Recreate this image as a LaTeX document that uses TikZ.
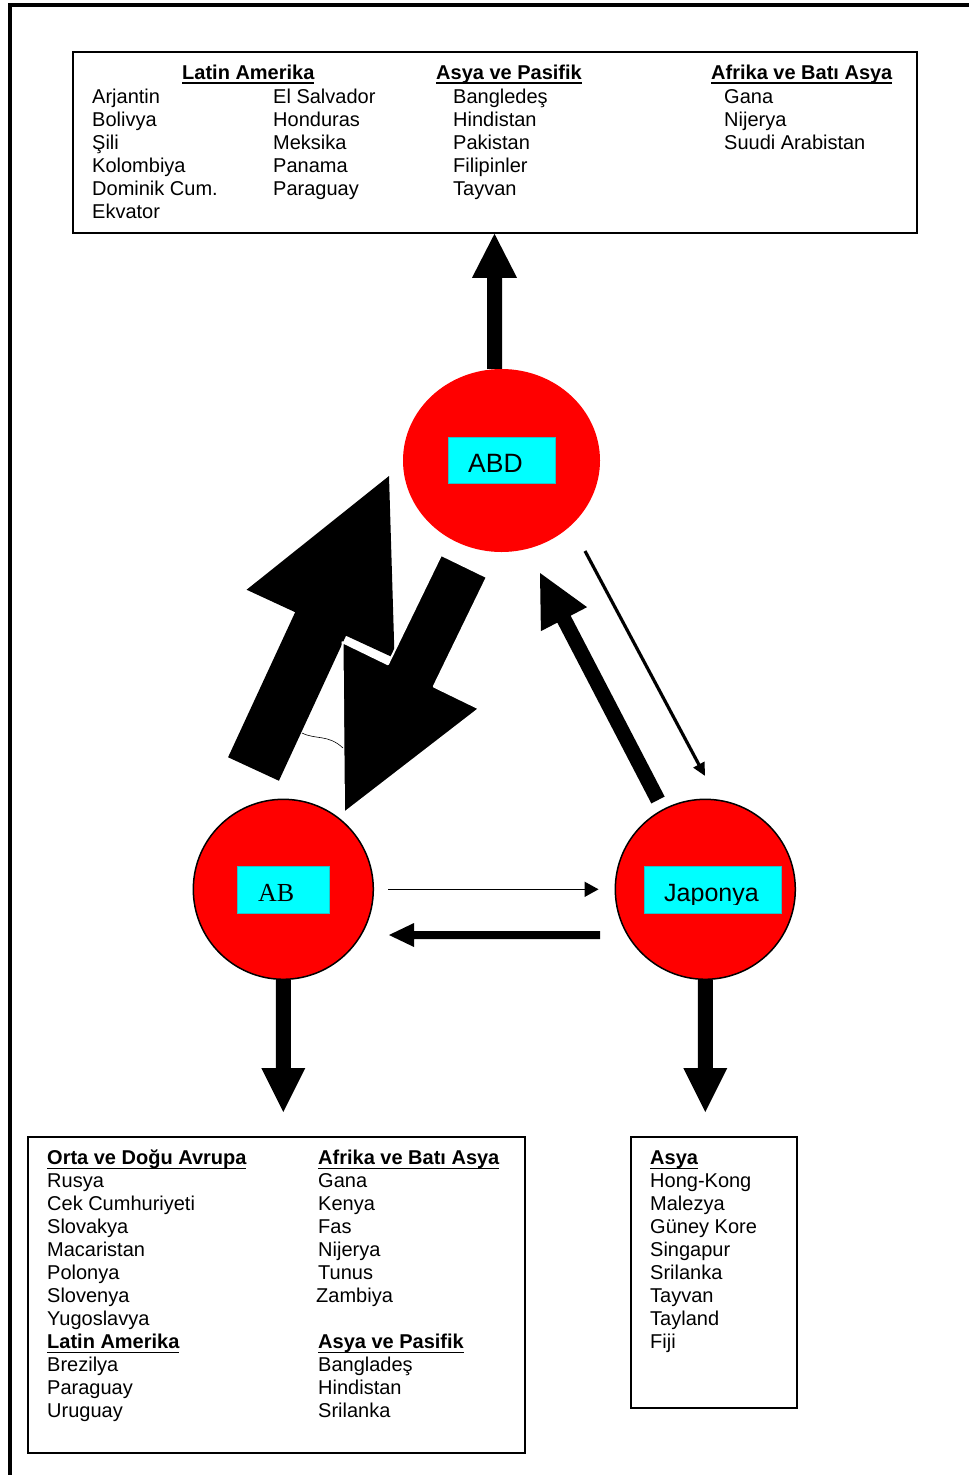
\documentclass[tikz,border=0pt]{standalone}
\usepackage{fontspec}
\setmainfont{Liberation Sans}
\newfontfamily\timesfont{Liberation Serif}
\usetikzlibrary{shapes.geometric,calc,arrows.meta}

\definecolor{hubred}{RGB}{255,0,0}
\definecolor{tagfill}{RGB}{0,255,255}
\definecolor{tagline}{RGB}{40,190,200}

% bold heading with a fixed underline
\newcommand\hdr[1]{{\bfseries\setbox0\hbox{#1}\rlap{\rule[-4.8pt]{\wd0}{1.8pt}}\box0}}
% one column of names, first baseline on the node's base
\newcommand\colist[1]{\begin{tabular}[t]{@{}l@{}}#1\end{tabular}}
% filled block arrow: style, tail, tip, half shaft, half head, head length
\newcommand\blockarrow[6]{%
  \coordinate (ba-base) at ($(#3)!#6!(#2)$);
  \filldraw[#1] ($(#2)!#4!90:(#3)$) -- ($(ba-base)!#4!90:(#3)$) -- ($(ba-base)!#5!90:(#3)$)
    -- (#3) -- ($(ba-base)!#5!-90:(#3)$) -- ($(ba-base)!#4!-90:(#3)$) -- ($(#2)!#4!-90:(#3)$) -- cycle;}

\begin{document}
\begin{tikzpicture}[x=1pt,y=-1pt,
  lst/.style={anchor=base west, inner sep=0pt, font=\fontsize{20}{23}\selectfont},
  listbox/.style={draw=black, line width=1.8pt, anchor=north west, inner sep=0pt},
  tag/.style={fill=tagfill, draw=tagline, line width=0.8pt, inner sep=0pt},
  hub/.style={circle, fill=hubred, draw=black, line width=1.5pt, minimum size=180pt, inner sep=0pt},
  tagtext/.style={anchor=base west, inner sep=0pt},
  solid/.style={fill=black, draw=none},
  thinarrow/.style={line width=1.6pt, -{Triangle[length=14pt,width=15pt]}},
]
\useasboundingbox (0,0) rectangle (969,1475);
\fill[white] (0,0) rectangle (969,1475);

% page frame
\draw[line width=4pt, line join=miter] (980,5) -- (10,5) -- (10,1490);

% list boxes
\node[listbox, minimum width=844pt, minimum height=181pt] (usbox) at (72,51) {};
\node[listbox, minimum width=497pt, minimum height=316pt, line width=1.5pt] (eubox) at (27,1136) {};
\node[listbox, minimum width=166pt, minimum height=271pt] (jpbox) at (630,1136) {};

% upper list
\node[lst] (us-h1) at (182,79) {\hdr{Latin Amerika}};
\node[lst] (us-h2) at (436,79) {\hdr{Asya ve Pasifik}};
\node[lst] (us-h3) at (711,79) {\hdr{Afrika ve Batı Asya}};
\node[lst] (us-c1) at (92,103.5) {\colist{Arjantin\\Bolivya\\Şili\\Kolombiya\\Dominik Cum.\\Ekvator}};
\node[lst] (us-c2) at (273,103.5) {\colist{El Salvador\\Honduras\\Meksika\\Panama\\Paraguay}};
\node[lst] (us-c3) at (453,103.5) {\colist{Bangledeş\\Hindistan\\Pakistan\\Filipinler\\Tayvan}};
\node[lst] (us-c4) at (724,103.5) {\colist{Gana\\Nijerya\\Suudi Arabistan}};

% lower left list
\node[lst] (eu-c1) at (47,1164.5) {\colist{\hdr{Orta ve Doğu Avrupa}\\Rusya\\Cek Cumhuriyeti\\Slovakya\\Macaristan\\Polonya\\Slovenya\\Yugoslavya\\\hdr{Latin Amerika}\\Brezilya\\Paraguay\\Uruguay}};
\node[lst] (eu-c2) at (318,1164.5) {\colist{\hdr{Afrika ve Batı Asya}\\Gana\\Kenya\\Fas\\Nijerya\\Tunus\\\hspace*{-2pt}Zambiya\\ \\\hdr{Asya ve Pasifik}\\Bangladeş\\Hindistan\\Srilanka}};

% lower right list
\node[lst] (jp-c1) at (650,1164.5) {\colist{\hdr{Asya}\\Hong-Kong\\Malezya\\Güney Kore\\Singapur\\Srilanka\\Tayvan\\Tayland\\Fiji}};

% the three centres
\node[ellipse, fill=hubred, minimum width=197pt, minimum height=183pt, inner sep=0pt] (abd) at (501.5,460.5) {};
\node[hub] (ab) at (283.3,889.3) {};
\node[hub] (jp) at (705.3,889.3) {};

\node[tag, minimum width=107pt, minimum height=46pt] (abd-tag) at (501.5,460) {};
\node[tagtext, font=\fontsize{26.5}{30}\selectfont] (abd-name) at (468,472) {ABD};
\node[tag, minimum width=92pt, minimum height=47pt] (ab-tag) at (283,889.5) {};
\node[tagtext, font=\timesfont\fontsize{26}{30}\selectfont] (ab-name) at (258,901.7) {AB};
\node[tag, minimum width=137pt, minimum height=47pt] (jp-tag) at (712.5,889.5) {};
\begin{scope}
  \clip (644,866) rectangle (781,904);
  \node[tagtext, font=\fontsize{25}{30}\selectfont] (jp-name) at (664,901.5) {Japonya};
\end{scope}

% outward arrows to the lists
\coordinate (us-out) at ($(abd.north)+(-7,0)$);
\coordinate (us-in) at (us-out |- usbox.south);
\blockarrow{solid}{us-out}{us-in}{7.5pt}{22.5pt}{44pt}
\coordinate (eu-out) at (ab.south);
\coordinate (eu-in) at ($(ab.south |- eubox.north)+(0,-24)$);
\blockarrow{solid}{eu-out}{eu-in}{7.5pt}{22pt}{44pt}
\coordinate (jp-out) at (jp.south);
\coordinate (jp-in) at ($(jp.south |- jpbox.north)+(0,-24)$);
\blockarrow{solid}{jp-out}{jp-in}{7.5pt}{22pt}{44pt}

% AB <-> ABD
\coordinate (eu-us-tail) at (253.5,769);
\coordinate (eu-us-tip) at (389,476);
\blockarrow{solid}{eu-us-tail}{eu-us-tip}{28pt}{81.5pt}{163pt}
\coordinate (us-eu-tail) at (464,566);
\coordinate (us-eu-tip) at (344,813);
\blockarrow{fill=black, draw=white, line width=2pt, line join=round}{us-eu-tail}{us-eu-tip}{25.5pt}{76pt}{153pt}
\coordinate (kink-a) at (302,733);
\coordinate (kink-b) at (343,748);
\draw[line width=0.6pt] (kink-a) .. controls (316,740) and (328,734) .. (kink-b);

% ABD <-> Japonya
\coordinate (jp-us-tail) at (658,800);
\coordinate (jp-us-tip) at (540,573);
\blockarrow{solid}{jp-us-tail}{jp-us-tip}{7.5pt}{26pt}{52pt}
\coordinate (us-jp-a) at (585,551);
\coordinate (us-jp-b) at (705,776);
\draw[line width=3.2pt, -{Triangle[length=13pt,width=12pt]}] (us-jp-a) -- (us-jp-b);

% AB <-> Japonya
\draw[thinarrow] ([xshift=14pt]ab.east) -- ([xshift=-16pt]jp.west);
\coordinate (jp-eu-tail) at (600,935);
\coordinate (jp-eu-tip) at (389,935);
\blockarrow{solid}{jp-eu-tail}{jp-eu-tip}{4pt}{12pt}{25pt}
\end{tikzpicture}
\end{document}
